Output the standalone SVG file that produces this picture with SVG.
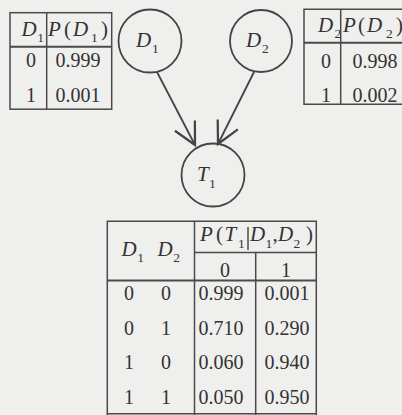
<svg xmlns="http://www.w3.org/2000/svg" width="402" height="415" viewBox="0 0 402 415">
<defs>
<style>
.ln{stroke:#4a4a4a;stroke-width:1.5;fill:none}
.hd{stroke:#4a4a4a;stroke-width:2;fill:none}
.nd{stroke:#444;stroke-width:1.8;fill:none}
text{font-family:"Liberation Serif","DejaVu Serif",serif;fill:#333}
.v{font-style:italic;font-size:21px}
.s{font-size:13.5px}
.n{font-size:20px;text-anchor:middle}
.p{font-size:21px}
</style>
<marker id="ah" markerUnits="userSpaceOnUse" markerWidth="30" markerHeight="30" viewBox="-20 -12 24 24" refX="0" refY="0" orient="auto">
<path d="M -17.5 -9 L 0 0 L -17.5 9" fill="none" stroke="#444" stroke-width="1.8"/>
</marker>
</defs>
<rect width="402" height="415" fill="#efefed"/>

<g id="tableD1">
<rect x="10" y="12.7" width="101.7" height="96.5" class="ln"/>
<line x1="10" y1="46.7" x2="111.7" y2="46.7" class="hd"/>
<line x1="46.7" y1="12.7" x2="46.7" y2="109.2" class="ln"/>
<text y="36"><tspan class="v" x="21.5">D</tspan><tspan class="s" x="37.3" y="42">1</tspan></text>
<text y="36"><tspan class="v" x="48">P</tspan><tspan class="p" x="64">(</tspan><tspan class="v" x="73">D</tspan><tspan class="s" x="91" y="42">1</tspan><tspan class="p" x="101" y="36">)</tspan></text>
<text class="n" x="31" y="67">0</text>
<text class="n" x="78" y="67">0.999</text>
<text class="n" x="31" y="102">1</text>
<text class="n" x="78" y="102">0.001</text>
</g>

<g id="tableD2">
<path d="M 404 9.3 H 304 V 104.3 H 404" class="ln"/>
<line x1="304" y1="42.7" x2="404" y2="42.7" class="hd"/>
<line x1="340.7" y1="9.3" x2="340.7" y2="104.3" class="ln"/>
<text y="32"><tspan class="v" x="318">D</tspan><tspan class="s" x="334.5" y="38">2</tspan></text>
<text y="32"><tspan class="v" x="343">P</tspan><tspan class="p" x="358">(</tspan><tspan class="v" x="367">D</tspan><tspan class="s" x="386" y="38">2</tspan><tspan class="p" x="396" y="32">)</tspan></text>
<text class="n" x="326" y="68">0</text>
<text class="n" x="375" y="68">0.998</text>
<text class="n" x="326" y="101.5">1</text>
<text class="n" x="375" y="101.5">0.002</text>
</g>

<g id="nodeD1">
<circle cx="150" cy="41" r="31.5" class="nd"/>
<text y="47"><tspan class="v" x="136">D</tspan><tspan class="s" x="152" y="53">1</tspan></text>
</g>

<g id="nodeD2">
<circle cx="261" cy="41" r="31" class="nd"/>
<text y="47"><tspan class="v" x="246">D</tspan><tspan class="s" x="262" y="53">2</tspan></text>
</g>

<g id="nodeT1">
<circle cx="213" cy="175" r="31.5" class="nd"/>
<text y="181"><tspan class="v" x="197">T</tspan><tspan class="s" x="209" y="188">1</tspan></text>
</g>

<g id="connectors">
<line x1="157" y1="72" x2="195" y2="145" class="nd" marker-end="url(#ah)"/>
<line x1="254" y1="72" x2="218" y2="144" class="nd" marker-end="url(#ah)"/>
</g>

<g id="tableT1">
<path d="M 107.3 416 V 221.3 H 316.3 V 416" class="ln"/>
<line x1="107.3" y1="280.5" x2="316.3" y2="280.5" class="hd"/>
<line x1="194.5" y1="221.3" x2="194.5" y2="416" class="ln"/>
<line x1="194.5" y1="252.5" x2="316.3" y2="252.5" class="ln"/>
<line x1="255.7" y1="252.5" x2="255.7" y2="416" class="ln"/>
<line x1="107.3" y1="413.8" x2="316.3" y2="413.8" class="ln"/>
<text y="256"><tspan class="v" x="121.5">D</tspan><tspan class="s" x="137.3" y="262">1</tspan></text>
<text y="256"><tspan class="v" x="157.5">D</tspan><tspan class="s" x="173.3" y="262">2</tspan></text>
<text y="241"><tspan class="v" x="200">P</tspan><tspan class="p" x="216">(</tspan><tspan class="v" x="224.5">T</tspan><tspan class="s" x="238" y="248">1</tspan><tspan class="v" x="250" y="241">D</tspan><tspan class="s" x="265.5" y="248">1</tspan><tspan class="p" x="272.5" y="241">,</tspan><tspan class="v" x="278">D</tspan><tspan class="s" x="293.5" y="248">2</tspan><tspan class="p" x="306" y="241">)</tspan></text>
<line x1="248" y1="227" x2="248" y2="250" stroke="#333" stroke-width="1.3"/>
<text class="n" x="225" y="277">0</text>
<text class="n" x="286" y="277">1</text>
<text class="n" x="129" y="300">0</text><text class="n" x="166" y="300">0</text>
<text class="n" x="221" y="300">0.999</text><text class="n" x="287" y="300">0.001</text>
<text class="n" x="129" y="335">0</text><text class="n" x="166" y="335">1</text>
<text class="n" x="221" y="335">0.710</text><text class="n" x="287" y="335">0.290</text>
<text class="n" x="129" y="369">1</text><text class="n" x="166" y="369">0</text>
<text class="n" x="221" y="369">0.060</text><text class="n" x="287" y="369">0.940</text>
<text class="n" x="129" y="404">1</text><text class="n" x="166" y="404">1</text>
<text class="n" x="221" y="404">0.050</text><text class="n" x="287" y="404">0.950</text>
</g>
</svg>
